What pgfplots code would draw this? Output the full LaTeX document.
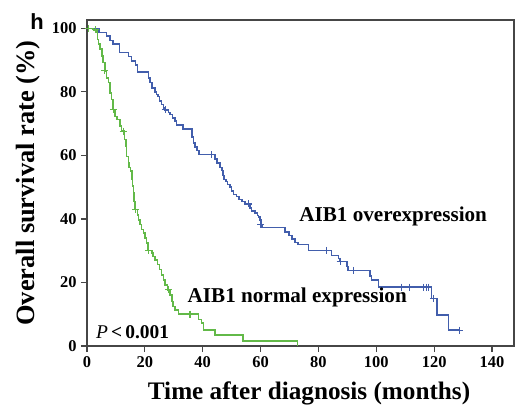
\documentclass[border=0pt]{standalone}
\usepackage{pgfplots}
\pgfplotsset{compat=1.18}
\usepackage{fontspec}
\setmainfont{Liberation Serif}
\newfontfamily\hfont{Liberation Sans}
\definecolor{kmblue}{RGB}{66,94,172}
\definecolor{kmgreen}{RGB}{98,185,72}
\definecolor{axgray}{RGB}{70,70,70}
\begin{document}
\begin{tikzpicture}
\useasboundingbox (-87bp,-68bp) rectangle (429bp,346bp);
\begin{axis}[
  scale only axis, width=427bp, height=326bp,
  at={(0,0)}, anchor=south west,
  xmin=0, xmax=147.6, ymin=0, ymax=102.6,
  xtick={0,20,...,140}, ytick={0,20,...,100},
  tick pos=left, tick align=outside, major tick length=6bp,
  axis line style={line width=1.2bp, axgray},
  every tick/.style={line width=1.2bp, axgray},
  /pgf/number format/assume math mode=true,
  ticklabel style={font=\bfseries\fontsize{16.5}{16.5}\selectfont},
  xticklabel style={yshift=-1bp},
  yticklabel style={xshift=-1bp},
  xlabel={Time after diagnosis (months)},
  xlabel style={at={(axis description cs:0.52,-0.1656)}, anchor=base, font=\bfseries\fontsize{25.3}{25.3}\selectfont},
  ylabel={Overall survival rate (\%)},
  ylabel style={at={(axis description cs:-0.1240,0.5)}, anchor=base, rotate=0, font=\bfseries\fontsize{26.5}{26.5}\selectfont},
  clip=false,
]
% AIB1 overexpression
\addplot[const plot, kmblue, line width=1.5bp] coordinates {
(0,100) (4.1,98.6) (6.8,97.5) (8.0,96.2) (9.0,95.0) (11.2,92.3) (14.3,91.1)
(15.4,89.7) (16.8,88.4) (17.5,86.2) (21.2,84.4) (21.8,82.9) (22.4,81.2)
(23.5,80.0) (24.0,79.2) (24.6,78.6) (25.0,77.1) (25.8,76.0) (26.4,74.9)
(27.0,74.3) (28.1,73.5) (28.7,72.8) (29.6,71.8) (30.4,70.8) (31.0,69.6)
(33.2,68.3) (36.3,65.8) (36.8,63.9) (37.3,62.6) (38.0,61.5) (38.8,60.2)
(44.2,58.8) (45.0,57.6) (46.0,56.2) (46.6,55.2) (47.0,53.6) (47.4,52.4)
(48.0,51.8) (48.5,50.8) (49.4,50.0) (50.0,48.8) (50.6,47.7) (51.7,47.0)
(52.6,46.1) (53.5,45.4) (54.6,44.7) (56.3,43.4) (56.9,42.5) (58.1,41.8)
(58.9,41.1) (59.2,40.6) (59.8,39.6) (60.1,38.3) (60.5,37.3) (68.4,35.8)
(69.9,34.7) (70.8,33.6) (71.9,32.6) (73.0,31.9) (76.5,30.1) (84.6,28.5)
(86.9,27.6) (87.5,26.6) (89.8,25.0) (90.3,23.8) (97.8,22.1) (98.4,20.8)
(100.7,18.5) (119.1,15.0) (120.9,9.8) (124.9,5.0) (128.9,5.0)
};
\addplot[only marks, mark=+, mark size=3.5bp, kmblue, line width=1.1bp] coordinates {
(27.0,74.3) (43.1,60.2) (55.8,44.7) (60.0,38.3) (82.8,30.1) (87.5,26.6)
(92.1,23.8) (108.8,18.5) (111.6,18.5) (116.3,18.5) (117.4,18.5) (118.0,18.5)
(119.7,15.0) (128.9,5.0)
};
% AIB1 normal expression
\addplot[const plot, kmgreen, line width=1.5bp] coordinates {
(0,100) (2.2,99.5) (3.4,98.6) (3.6,96.5) (3.9,95.0) (4.5,93.4) (5.1,91.3)
(5.6,89.2) (6.2,86.6) (6.8,84.4) (7.4,82.9) (8.0,79.7) (8.5,77.6) (9.0,74.4)
(9.7,72.3) (10.3,71.3) (11.4,69.2) (12.0,67.6) (12.9,65.0) (13.5,62.9)
(13.7,59.7) (14.3,57.6) (14.6,56.1) (15.1,55.0) (15.5,52.4) (15.8,50.3)
(16.0,48.2) (16.3,45.5) (16.6,42.9) (17.4,41.3) (17.8,39.7) (18.3,38.2)
(18.9,36.6) (19.5,35.5) (20.0,34.0) (20.6,32.4) (21.0,30.1) (22.4,29.2)
(22.9,28.2) (23.5,27.1) (24.3,25.6) (25.0,24.0) (25.8,22.4) (26.4,20.8)
(27.0,19.2) (27.8,17.7) (28.7,16.1) (29.3,14.0) (29.8,12.4) (30.4,11.4)
(31.6,10.0) (38.5,8.4) (39.6,7.2) (40.2,5.0) (44.2,3.5) (54.0,1.6)
(72.7,1.6) (72.7,0)
};
\addplot[only marks, mark=+, mark size=3.5bp, kmgreen, line width=1.1bp] coordinates {
(0.4,100) (2.8,99.5) (6.2,86.6) (9.1,74.4) (12.5,67.6) (16.8,42.9)
(21.2,30.1) (28.1,17.7) (35.6,10.0)
};
\node[anchor=base west, font=\bfseries\fontsize{21.2}{21.2}\selectfont] at (axis cs:72.2,39.1) {AIB1 overexpression};
\node[anchor=base west, font=\bfseries\fontsize{21.2}{21.2}\selectfont] at (axis cs:33.6,13.8) {AIB1 normal expression};
\node[anchor=base west, font=\fontsize{19.5}{19.5}\selectfont] at (axis cs:1.9,2.5) {\textit{P}\,\textbf{<\,0.001}};
\node[anchor=base, font=\hfont\bfseries\fontsize{22}{22}\selectfont] at (axis description cs:-0.117,0.9715) {h};
\end{axis}
\end{tikzpicture}
\end{document}
